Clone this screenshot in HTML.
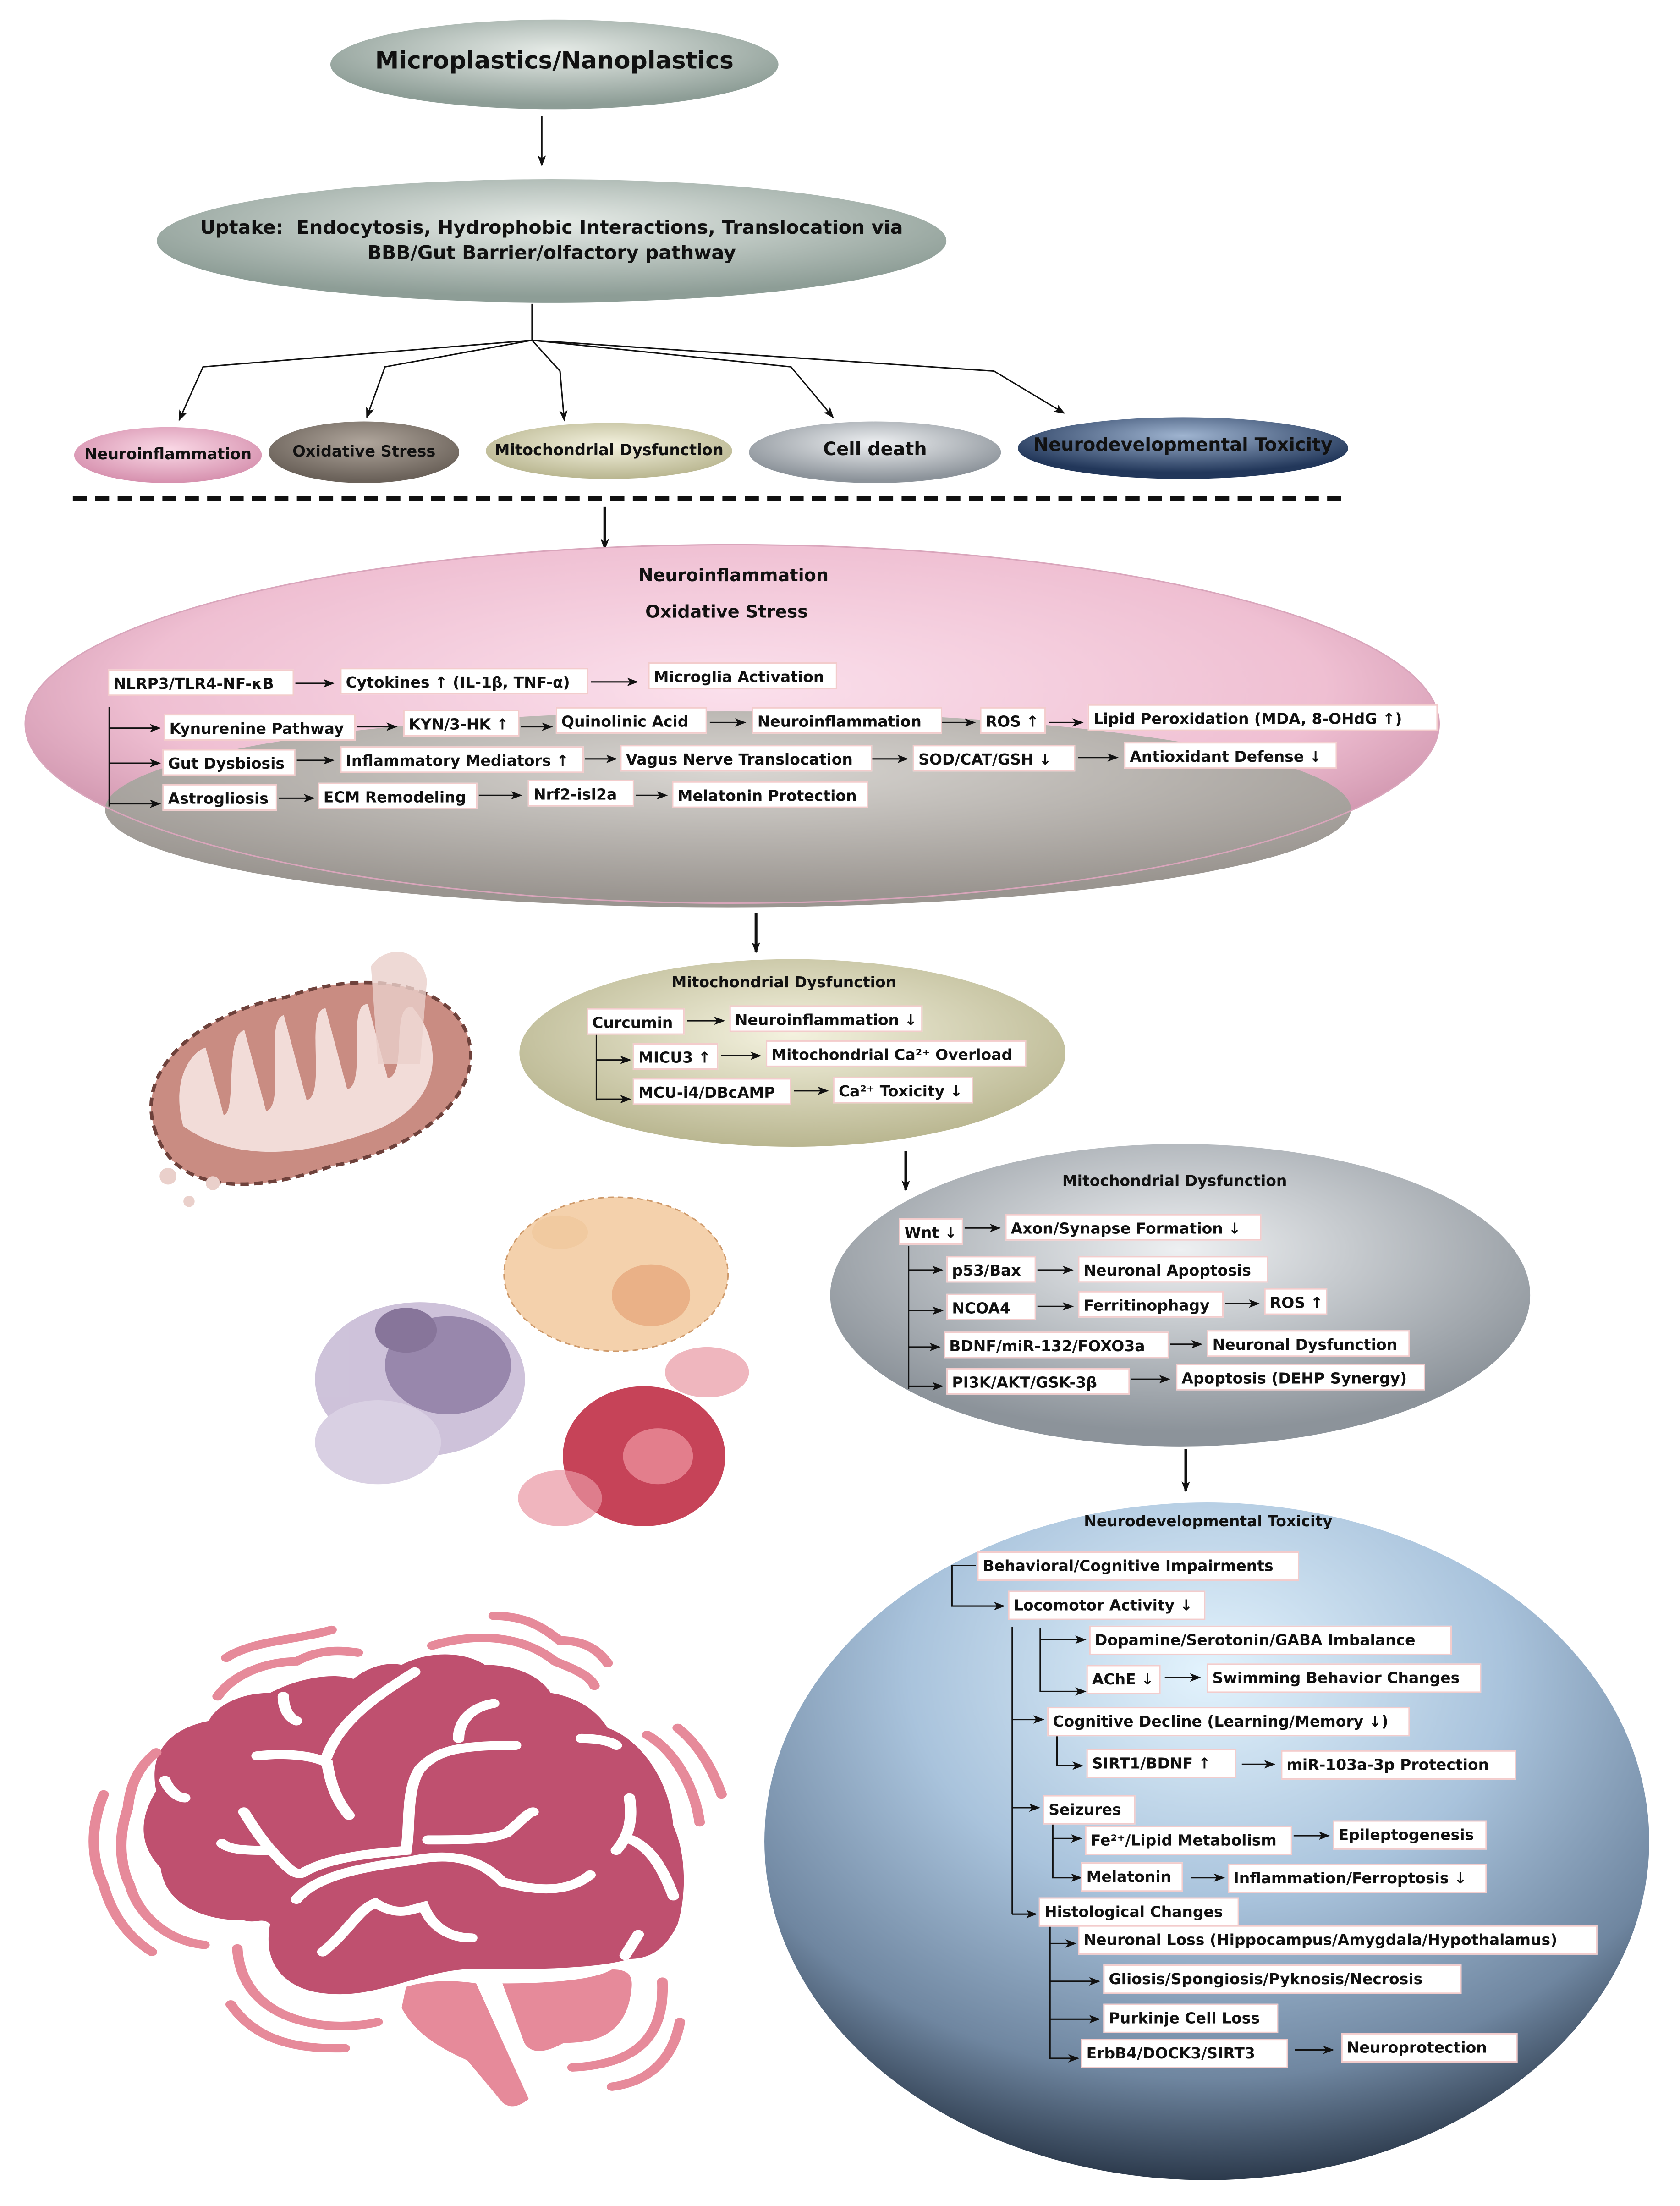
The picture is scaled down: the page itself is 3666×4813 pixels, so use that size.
<!DOCTYPE html>
<html><head><meta charset="utf-8">
<style>
html,body{margin:0;padding:0;background:#fff;}
body{width:3666px;height:4813px;overflow:hidden;position:relative;}
#w{position:absolute;left:0;top:0;width:1200px;height:1575px;transform:scale(3.055);transform-origin:0 0;font-family:"DejaVu Sans","Liberation Sans",sans-serif;}
svg{position:absolute;left:0;top:0;}
.b{position:absolute;background:#fff;border:1px solid #f3cccc;height:19px;line-height:19px;font-size:10.8px;font-weight:bold;color:#111;white-space:nowrap;padding:0 3px;box-sizing:border-box;}
.t{position:absolute;font-weight:bold;color:#111;white-space:nowrap;text-align:center;}
</style></head><body><div id="w">
<svg width="1200" height="1575" viewBox="0 0 1200 1575">
<defs>
<marker id="a" markerWidth="8" markerHeight="8" refX="7" refY="4" orient="auto" markerUnits="userSpaceOnUse"><path d="M0,1 L8,4 L0,7 L2,4z" fill="#111"/></marker>
<radialGradient id="g1" cx="50%" cy="35%" r="60%"><stop offset="0" stop-color="#e6ebe7"/><stop offset="1" stop-color="#8d9d96"/></radialGradient>
<radialGradient id="pk" cx="50%" cy="40%" r="60%"><stop offset="0" stop-color="#fbe0ec"/><stop offset="0.7" stop-color="#efbfd2"/><stop offset="1" stop-color="#c98ca6"/></radialGradient>
<radialGradient id="gr" cx="50%" cy="30%" r="65%"><stop offset="0" stop-color="#d9d6d2"/><stop offset="1" stop-color="#9a9590"/></radialGradient>
<radialGradient id="ol" cx="50%" cy="40%" r="60%"><stop offset="0" stop-color="#f4f2df"/><stop offset="1" stop-color="#b9b690"/></radialGradient>
<radialGradient id="gy" cx="50%" cy="35%" r="60%"><stop offset="0" stop-color="#eef0f2"/><stop offset="1" stop-color="#8c939a"/></radialGradient>
<radialGradient id="bl" cx="50%" cy="25%" r="75%"><stop offset="0" stop-color="#e3f3fd"/><stop offset="0.45" stop-color="#a9c3dc"/><stop offset="0.8" stop-color="#6f86a0"/><stop offset="1" stop-color="#2c3a4c"/></radialGradient>
<radialGradient id="nd" cx="50%" cy="30%" r="60%"><stop offset="0" stop-color="#9fb4d0"/><stop offset="1" stop-color="#22375a"/></radialGradient>
<radialGradient id="sp" cx="50%" cy="40%" r="60%"><stop offset="0" stop-color="#fad9e6"/><stop offset="1" stop-color="#d690ae"/></radialGradient>
<radialGradient id="sb" cx="50%" cy="35%" r="60%"><stop offset="0" stop-color="#b0a69c"/><stop offset="1" stop-color="#6b625a"/></radialGradient>
</defs>
<ellipse cx="396" cy="46" rx="160" ry="32" fill="url(#g1)"/>
<line x1="387" y1="83" x2="387" y2="118" stroke="#111" marker-end="url(#a)"/>
<ellipse cx="394" cy="172" rx="282" ry="44" fill="url(#g1)"/>
<g stroke="#111" fill="none" stroke-width="1">
<path d="M380,217 V243"/>
<path d="M380,243 L145,262 L128,300" marker-end="url(#a)"/>
<path d="M380,243 L275,262 L262,298" marker-end="url(#a)"/>
<path d="M380,243 L400,265 L403,300" marker-end="url(#a)"/>
<path d="M380,243 L565,262 L595,298" marker-end="url(#a)"/>
<path d="M380,243 L710,265 L760,295" marker-end="url(#a)"/>
</g>
<ellipse cx="120" cy="325" rx="67" ry="20" fill="url(#sp)"/>
<ellipse cx="260" cy="323" rx="68" ry="22" fill="url(#sb)"/>
<ellipse cx="435" cy="322" rx="88" ry="20" fill="url(#ol)"/>
<ellipse cx="625" cy="323" rx="90" ry="22" fill="url(#gy)"/>
<ellipse cx="845" cy="320" rx="118" ry="22" fill="url(#nd)"/>
<line x1="52" y1="356" x2="963" y2="356" stroke="#111" stroke-width="3" stroke-dasharray="10,6"/>
<line x1="432" y1="362" x2="432" y2="392" stroke="#111" stroke-width="2" marker-end="url(#a)"/>
<ellipse cx="523" cy="517" rx="505" ry="128" fill="url(#pk)"/>
<ellipse cx="520" cy="578" rx="445" ry="70" fill="url(#gr)"/>
<ellipse cx="523" cy="517" rx="505" ry="128" fill="none" stroke="#d9a5bb" stroke-width="1"/>
<line x1="540" y1="652" x2="540" y2="680" stroke="#111" stroke-width="2" marker-end="url(#a)"/>
<ellipse cx="566" cy="752" rx="195" ry="67" fill="url(#ol)"/>
<line x1="647" y1="822" x2="647" y2="850" stroke="#111" stroke-width="2" marker-end="url(#a)"/>
<ellipse cx="843" cy="925" rx="250" ry="108" fill="url(#gy)"/>
<line x1="847" y1="1035" x2="847" y2="1065" stroke="#111" stroke-width="2" marker-end="url(#a)"/>
<ellipse cx="862" cy="1315" rx="316" ry="242" fill="url(#bl)"/>
<g stroke="#111" stroke-width="1" fill="none">
<path d="M211,488 H238" marker-end="url(#a)"/><path d="M422,487 H455" marker-end="url(#a)"/>
<path d="M78,505 V576"/>
<path d="M78,520 H114" marker-end="url(#a)"/><path d="M78,545 H114" marker-end="url(#a)"/><path d="M78,574 H114" marker-end="url(#a)"/>
<path d="M255,519 H283" marker-end="url(#a)"/><path d="M372,519 H394" marker-end="url(#a)"/><path d="M507,516 H532" marker-end="url(#a)"/><path d="M673,516 H696" marker-end="url(#a)"/><path d="M749,516 H773" marker-end="url(#a)"/>
<path d="M212,543 H238" marker-end="url(#a)"/><path d="M418,542 H440" marker-end="url(#a)"/><path d="M623,542 H648" marker-end="url(#a)"/><path d="M770,541 H798" marker-end="url(#a)"/>
<path d="M199,570 H224" marker-end="url(#a)"/><path d="M342,568 H372" marker-end="url(#a)"/><path d="M454,568 H476" marker-end="url(#a)"/>
<path d="M491,729 H517" marker-end="url(#a)"/>
<path d="M426,738 V786"/><path d="M426,757 H450" marker-end="url(#a)"/><path d="M426,785 H450" marker-end="url(#a)"/>
<path d="M515,754 H543" marker-end="url(#a)"/><path d="M567,779 H591" marker-end="url(#a)"/>
<path d="M689,877 H714" marker-end="url(#a)"/>
<path d="M649,890 V992"/>
<path d="M649,907 H673" marker-end="url(#a)"/><path d="M649,936 H673" marker-end="url(#a)"/><path d="M649,962 H671" marker-end="url(#a)"/><path d="M649,990 H673" marker-end="url(#a)"/>
<path d="M741,907 H766" marker-end="url(#a)"/><path d="M741,933 H766" marker-end="url(#a)"/><path d="M875,931 H899" marker-end="url(#a)"/><path d="M836,960 H858" marker-end="url(#a)"/><path d="M808,985 H835" marker-end="url(#a)"/>
<path d="M697,1118 H680 V1147 H717" marker-end="url(#a)"/>
<path d="M723,1162 V1367"/>
<path d="M743,1163 V1208 H775" marker-end="url(#a)"/><path d="M743,1171 H775" marker-end="url(#a)"/>
<path d="M832,1198 H857" marker-end="url(#a)"/>
<path d="M723,1228 H745" marker-end="url(#a)"/>
<path d="M755,1237 V1261 H773" marker-end="url(#a)"/><path d="M887,1260 H910" marker-end="url(#a)"/>
<path d="M723,1291 H742" marker-end="url(#a)"/>
<path d="M752,1303 V1341 H772" marker-end="url(#a)"/><path d="M752,1313 H772" marker-end="url(#a)"/>
<path d="M924,1311 H949" marker-end="url(#a)"/><path d="M851,1341 H874" marker-end="url(#a)"/>
<path d="M723,1367 H740" marker-end="url(#a)"/>
<path d="M750,1375 V1470 H770" marker-end="url(#a)"/>
<path d="M750,1388 H768" marker-end="url(#a)"/><path d="M750,1415 H785" marker-end="url(#a)"/><path d="M750,1442 H785" marker-end="url(#a)"/>
<path d="M925,1464 H952" marker-end="url(#a)"/>
</g>
<g transform="translate(220,770) rotate(-15)">
<path d="M-115,10 C-120,-40 -60,-65 0,-60 C60,-65 115,-40 118,0 C120,45 60,70 0,65 C-60,70 -112,55 -115,10z" fill="#c98c82" stroke="#6e413b" stroke-width="2.5" stroke-dasharray="6,4"/>
<path d="M-95,10 C-95,-25 -75,-40 -65,-40 V10 C-55,10 -50,-45 -35,-45 V15 C-20,15 -20,-48 -5,-48 V15 C10,15 10,-48 25,-45 V15 C40,15 40,-45 55,-40 V15 C70,15 70,-35 85,-30 C100,0 90,40 40,48 C0,52 -60,52 -95,10z" fill="#f2dcd8"/>
</g>
<path d="M265,690 C275,675 300,675 305,700 L300,760 L270,760z" fill="#ead0cb" opacity="0.8"/>
<circle cx="120" cy="840" r="6" fill="#ead0cb"/><circle cx="135" cy="858" r="4" fill="#ead0cb"/><circle cx="152" cy="845" r="5" fill="#ead0cb"/>
<g opacity="0.9">
<ellipse cx="300" cy="985" rx="75" ry="55" fill="#c9bcd6"/>
<ellipse cx="270" cy="1030" rx="45" ry="30" fill="#d5cbe0"/>
<ellipse cx="320" cy="975" rx="45" ry="35" fill="#8d7aa3"/>
<ellipse cx="290" cy="950" rx="22" ry="16" fill="#7a6690"/>
<ellipse cx="440" cy="910" rx="80" ry="55" fill="#f3cda3" stroke="#c98e5a" stroke-dasharray="4,3"/>
<ellipse cx="465" cy="925" rx="28" ry="22" fill="#e8a97a"/>
<ellipse cx="400" cy="880" rx="20" ry="12" fill="#f0c596"/>
<ellipse cx="460" cy="1040" rx="58" ry="50" fill="#c02f46"/>
<ellipse cx="470" cy="1040" rx="25" ry="20" fill="#e07080"/>
<ellipse cx="400" cy="1070" rx="30" ry="20" fill="#e78a98" opacity="0.7"/>
<ellipse cx="505" cy="980" rx="30" ry="18" fill="#e58b98" opacity="0.7"/>
</g>
<g transform="translate(49,1129) scale(0.313,0.25)">
<path d="M210,820 C150,740 170,660 200,600 C180,480 240,420 320,400 C340,350 400,320 460,320 C520,280 600,260 650,280 C680,250 720,230 760,240 C820,200 900,200 950,240 C1030,240 1080,280 1100,320 C1150,330 1200,360 1230,420 C1300,450 1370,560 1380,700 C1410,780 1410,900 1390,980 C1360,1060 1320,1080 1280,1080 C1200,1110 1050,1110 900,1110 C800,1120 700,1190 600,1180 C500,1175 440,1100 460,980 C440,960 430,980 400,970 C300,970 220,920 210,820z" fill="#bf506f"/>
<path d="M770,1160 C820,1140 880,1140 930,1150 L1050,1480 C1030,1500 1010,1510 990,1490 L910,1370 C840,1330 790,1290 760,1220z" fill="#e68a9a"/>
<path d="M990,1150 C1100,1150 1200,1140 1240,1110 C1290,1110 1290,1140 1280,1200 C1260,1300 1200,1320 1130,1320 C1100,1340 1060,1360 1040,1320z" fill="#e68a9a"/>
<g stroke="#fff" stroke-width="26" fill="none" stroke-linecap="round">
<path d="M430,500 C500,490 560,500 590,520 C600,600 620,640 640,670"/><path d="M590,500 C620,400 700,330 790,260"/>
<path d="M400,660 C420,700 440,740 470,780 C500,820 520,850 540,830 C600,790 680,780 770,770 C780,700 770,600 800,540 C840,480 900,470 1020,470"/>
<path d="M350,750 C370,770 410,770 460,770"/><path d="M890,450 C890,400 920,360 970,350"/>
<path d="M820,740 C900,740 960,740 1000,720 C1030,690 1050,660 1060,660"/>
<path d="M520,910 C560,850 650,820 780,800 C850,780 930,780 990,860 C1050,880 1130,900 1190,840"/>
<path d="M580,1060 C640,1000 660,940 700,920 C750,960 780,940 810,930 C830,990 870,1020 920,1020"/>
<path d="M1280,620 C1290,700 1270,740 1250,770"/><path d="M1285,740 C1320,760 1350,800 1380,900"/>
<path d="M1170,450 C1210,450 1240,460 1250,470"/><path d="M1300,1010 C1280,1050 1270,1070 1270,1070"/>
<path d="M220,570 C230,600 250,620 265,620"/><path d="M490,330 C490,360 500,390 520,400"/>
</g>
<g stroke="#e68a9a" stroke-width="24" fill="none" stroke-linecap="round">
<path d="M360,220 C420,170 520,170 600,140"/><path d="M340,330 C380,260 460,230 520,230 C580,190 630,200 660,205"/>
<path d="M830,185 C920,150 1030,150 1110,230 C1150,250 1190,270 1200,300"/><path d="M970,100 C1040,100 1080,130 1120,170 C1180,170 1210,200 1230,235"/>
<path d="M200,490 C150,540 140,600 135,650 C110,740 120,820 140,870 C160,960 230,1030 310,1040"/>
<path d="M80,610 C50,700 50,790 80,870 C100,960 140,1020 190,1060"/>
<path d="M385,1050 C390,1150 440,1250 590,1270 C650,1275 690,1265 705,1260"/><path d="M370,1210 C420,1300 500,1340 630,1335"/>
<path d="M1320,440 C1390,490 1430,600 1440,690"/><path d="M1390,420 C1440,470 1470,540 1490,610"/>
<path d="M1355,1145 C1360,1300 1300,1380 1150,1390"/><path d="M1395,1260 C1380,1360 1330,1430 1240,1445"/>
</g>
</g>
</svg>
<div class="t" style="left:236px;top:34px;width:320px;font-size:17px;">Microplastics/Nanoplastics</div>
<div class="t" style="left:112px;top:154px;width:564px;font-size:13.5px;line-height:18px;">Uptake:&nbsp; Endocytosis, Hydrophobic Interactions, Translocation via<br>BBB/Gut Barrier/olfactory pathway</div>
<div class="t" style="left:53px;top:318px;width:134px;font-size:11px;">Neuroinflammation</div>
<div class="t" style="left:192px;top:316px;width:136px;font-size:11px;">Oxidative Stress</div>
<div class="t" style="left:347px;top:315px;width:176px;font-size:11px;">Mitochondrial Dysfunction</div>
<div class="t" style="left:535px;top:314px;width:180px;font-size:13px;">Cell death</div>
<div class="t" style="left:727px;top:311px;width:236px;font-size:13px;">Neurodevelopmental Toxicity</div>
<div class="t" style="left:424px;top:403px;width:200px;font-size:12.5px;">Neuroinflammation</div>
<div class="t" style="left:419px;top:429px;width:200px;font-size:12.5px;">Oxidative Stress</div>
<div class="b" style="left:77px;top:478px;width:133px;">NLRP3/TLR4-NF-κB</div>
<div class="b" style="left:243px;top:477px;width:177px;">Cytokines ↑ (IL-1β, TNF-α)</div>
<div class="b" style="left:463px;top:473px;width:135px;">Microglia Activation</div>
<div class="b" style="left:117px;top:510px;width:137px;">Kynurenine Pathway</div>
<div class="b" style="left:288px;top:507px;width:83px;">KYN/3-HK ↑</div>
<div class="b" style="left:397px;top:505px;width:108px;">Quinolinic Acid</div>
<div class="b" style="left:537px;top:505px;width:136px;">Neuroinflammation</div>
<div class="b" style="left:700px;top:505px;width:47px;">ROS ↑</div>
<div class="b" style="left:777px;top:503px;width:250px;">Lipid Peroxidation (MDA, 8-OHdG ↑)</div>
<div class="b" style="left:116px;top:535px;width:95px;">Gut Dysbiosis</div>
<div class="b" style="left:243px;top:533px;width:174px;">Inflammatory Mediators ↑</div>
<div class="b" style="left:443px;top:532px;width:180px;">Vagus Nerve Translocation</div>
<div class="b" style="left:652px;top:532px;width:116px;">SOD/CAT/GSH ↓</div>
<div class="b" style="left:803px;top:530px;width:152px;">Antioxidant Defense ↓</div>
<div class="b" style="left:116px;top:560px;width:82px;">Astrogliosis</div>
<div class="b" style="left:227px;top:559px;width:114px;">ECM Remodeling</div>
<div class="b" style="left:377px;top:557px;width:76px;">Nrf2-isl2a</div>
<div class="b" style="left:480px;top:558px;width:140px;">Melatonin Protection</div>
<div class="t" style="left:460px;top:695px;width:200px;font-size:10.8px;">Mitochondrial Dysfunction</div>
<div class="b" style="left:419px;top:720px;width:70px;">Curcumin</div>
<div class="b" style="left:521px;top:718px;width:138px;">Neuroinflammation ↓</div>
<div class="b" style="left:452px;top:745px;width:61px;">MICU3 ↑</div>
<div class="b" style="left:547px;top:743px;width:186px;">Mitochondrial Ca²⁺ Overload</div>
<div class="b" style="left:452px;top:770px;width:113px;">MCU-i4/DBcAMP</div>
<div class="b" style="left:595px;top:769px;width:100px;">Ca²⁺ Toxicity ↓</div>
<div class="t" style="left:739px;top:837px;width:200px;font-size:10.8px;">Mitochondrial Dysfunction</div>
<div class="b" style="left:642px;top:870px;width:46px;">Wnt ↓</div>
<div class="b" style="left:718px;top:867px;width:183px;">Axon/Synapse Formation ↓</div>
<div class="b" style="left:676px;top:897px;width:64px;">p53/Bax</div>
<div class="b" style="left:770px;top:897px;width:136px;">Neuronal Apoptosis</div>
<div class="b" style="left:676px;top:924px;width:64px;">NCOA4</div>
<div class="b" style="left:770px;top:922px;width:104px;">Ferritinophagy</div>
<div class="b" style="left:903px;top:920px;width:45px;">ROS ↑</div>
<div class="b" style="left:674px;top:951px;width:161px;">BDNF/miR-132/FOXO3a</div>
<div class="b" style="left:862px;top:950px;width:145px;">Neuronal Dysfunction</div>
<div class="b" style="left:676px;top:977px;width:131px;">PI3K/AKT/GSK-3β</div>
<div class="b" style="left:840px;top:974px;width:178px;">Apoptosis (DEHP Synergy)</div>
<div class="t" style="left:763px;top:1080px;width:200px;font-size:10.8px;">Neurodevelopmental Toxicity</div>
<div class="b" style="left:698px;top:1108px;width:230px;height:21px;">Behavioral/Cognitive Impairments</div>
<div class="b" style="left:720px;top:1136px;width:141px;height:21px;">Locomotor Activity ↓</div>
<div class="b" style="left:778px;top:1161px;width:259px;height:21px;">Dopamine/Serotonin/GABA Imbalance</div>
<div class="b" style="left:776px;top:1189px;width:53px;height:21px;">AChE ↓</div>
<div class="b" style="left:862px;top:1188px;width:196px;height:21px;">Swimming Behavior Changes</div>
<div class="b" style="left:748px;top:1219px;width:259px;height:21px;">Cognitive Decline (Learning/Memory ↓)</div>
<div class="b" style="left:776px;top:1249px;width:107px;height:21px;">SIRT1/BDNF ↑</div>
<div class="b" style="left:915px;top:1250px;width:168px;height:21px;">miR-103a-3p Protection</div>
<div class="b" style="left:745px;top:1282px;width:66px;height:21px;">Seizures</div>
<div class="b" style="left:775px;top:1304px;width:148px;height:21px;">Fe²⁺/Lipid Metabolism</div>
<div class="b" style="left:952px;top:1300px;width:110px;height:21px;">Epileptogenesis</div>
<div class="b" style="left:772px;top:1330px;width:73px;height:21px;">Melatonin</div>
<div class="b" style="left:877px;top:1331px;width:185px;height:21px;">Inflammation/Ferroptosis ↓</div>
<div class="b" style="left:742px;top:1355px;width:143px;height:21px;">Histological Changes</div>
<div class="b" style="left:770px;top:1375px;width:371px;height:21px;">Neuronal Loss (Hippocampus/Amygdala/Hypothalamus)</div>
<div class="b" style="left:788px;top:1403px;width:256px;height:21px;">Gliosis/Spongiosis/Pyknosis/Necrosis</div>
<div class="b" style="left:788px;top:1431px;width:125px;height:21px;">Purkinje Cell Loss</div>
<div class="b" style="left:772px;top:1456px;width:148px;height:21px;">ErbB4/DOCK3/SIRT3</div>
<div class="b" style="left:958px;top:1452px;width:126px;height:21px;">Neuroprotection</div>
</div></body></html>
